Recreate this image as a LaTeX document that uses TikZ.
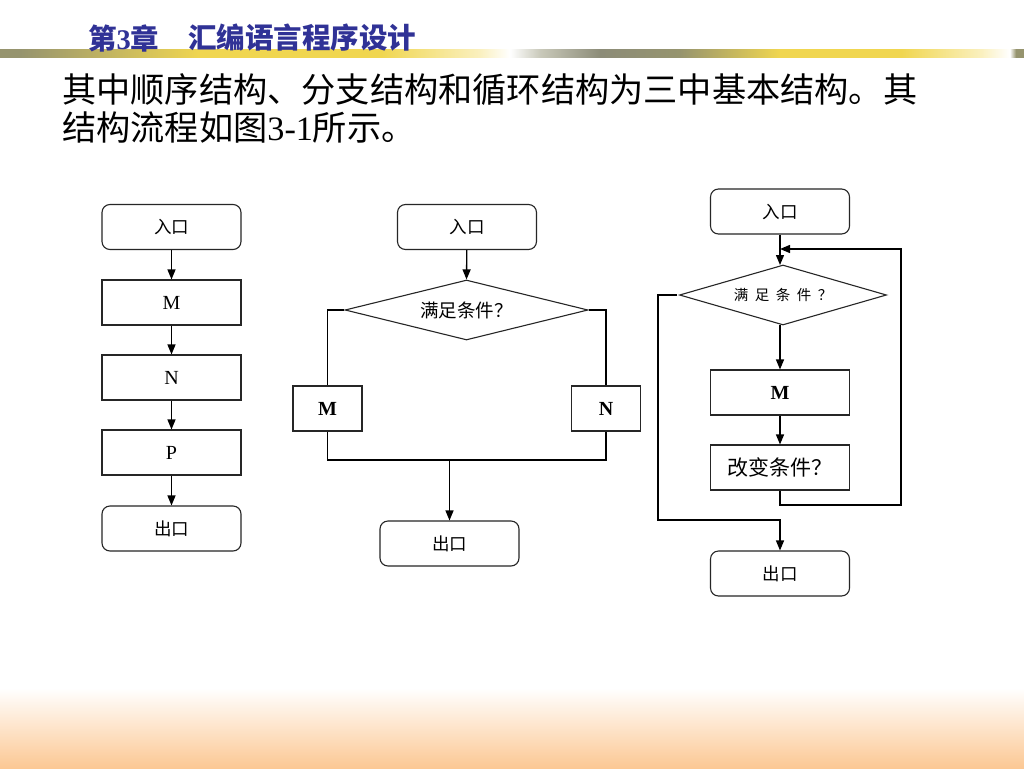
\documentclass[tikz,border=0pt]{standalone}
\usepackage{fontspec}
\setmainfont{Liberation Serif}
\newfontfamily\cjk{Noto Sans CJK SC}
\usetikzlibrary{shapes.geometric,arrows.meta}
\definecolor{titleblue}{RGB}{48,50,150}
\definecolor{barol}{RGB}{150,148,110}
\definecolor{barmid}{RGB}{200,185,95}
\definecolor{baryel}{RGB}{240,214,80}
\definecolor{barlt}{RGB}{250,240,190}
\definecolor{bargl}{RGB}{200,200,185}
\definecolor{bargr}{RGB}{140,140,120}
\definecolor{orangebot}{RGB}{252,200,148}
\pgfdeclarehorizontalshading{barshade}{100bp}{color(0bp)=(barol); color(25bp)=(barol); color(26bp)=(barol); color(30.9bp)=(barmid); color(34.8bp)=(baryel); color(43.6bp)=(baryel); color(48.4bp)=(barlt); color(49.9bp)=(white); color(51.4bp)=(bargl); color(54.3bp)=(bargr); color(58.2bp)=(barol); color(63.1bp)=(baryel); color(69bp)=(baryel); color(72.9bp)=(barlt); color(74.3bp)=(white); color(74.6bp)=(barol); color(75bp)=(barol); color(100bp)=(barol)}
\tikzset{
  box/.style={draw=black!85, line width=1.1pt, minimum width=139pt, minimum height=45pt, inner sep=0pt, align=center},
  term/.style={box, rounded corners=8pt},
  smallbox/.style={box, minimum width=69pt},
  dia/.style={diamond, draw=black!85, line width=1.1pt, inner sep=0pt, shape aspect=4},
  ln/.style={line width=1.3pt},
  arr/.style={ln, -{Triangle[length=10pt,width=8pt]}},
  lbl/.style={font=\fontsize{17.5}{19}\selectfont},
  lat/.style={font=\fontsize{20}{22}\selectfont},
  latb/.style={font=\fontsize{20}{22}\selectfont\bfseries},
}
\begin{document}
\begin{tikzpicture}[x=1pt,y=-1pt]
\useasboundingbox (0,0) rectangle (1024,768);
\fill[white] (0,0) rectangle (1024,768);
\shade[top color=white, bottom color=orangebot] (0,688) rectangle (1024,768);
\shade[shading=barshade] (0,50) rectangle (1024,58);
% title
\node[anchor=west, inner sep=0pt, text=titleblue, font=\fontsize{28.5}{31}\selectfont\bfseries] (h1) at (88,38) {{\cjk\bfseries 第}3{\cjk\bfseries 章}};
\node[anchor=west, inner sep=0pt, text=titleblue, font=\fontsize{28.5}{31}\selectfont] (h2) at (188,38) {\cjk\bfseries 汇编语言程序设计};
% body text
\node[anchor=west, inner sep=0pt, font=\fontsize{34.2}{37}\selectfont] (t1) at (62,90) {\cjk 其中顺序结构、分支结构和循环结构为三中基本结构。其};
\node[anchor=west, inner sep=0pt, font=\fontsize{34.2}{37}\selectfont] (t2) at (62,128) {{\cjk 结构流程如图}3-1{\cjk 所示。}};
% ---- sequence ----
\node[term, lbl] (in1) at (171.5,227) {\cjk 入口};
\node[box, lat] (m1) at (171.5,302.5) {M};
\node[box, lat] (n1) at (171.5,377.5) {N};
\node[box, lat] (p1) at (171.5,452.5) {P};
\node[term, lbl] (out1) at (171.5,528.5) {\cjk 出口};
\draw[arr] (in1) -- (m1);
\draw[arr] (m1) -- (n1);
\draw[arr] (n1) -- (p1);
\draw[arr] (p1) -- (out1);
% ---- branch ----
\node[term, lbl] (in2) at (467,227) {\cjk 入口};
\node[dia, minimum width=243pt, minimum height=60pt, font=\fontsize{18.5}{20}\selectfont] (d2) at (466.5,310) {\cjk 满足条件？};
\node[smallbox, latb] (m2) at (327.5,408.5) {M};
\node[smallbox, latb] (n2) at (606,408.5) {N};
\node[term, lbl] (out2) at (449.5,543.5) {\cjk 出口};
\coordinate (j2) at (449.5,460);
\draw[arr] (in2) -- (d2.north);
\draw[ln] (d2.west) -| (m2.north);
\draw[ln] (d2.east) -| (n2.north);
\draw[ln] (m2.south) -- (m2.south |- j2) -- (n2.south |- j2) -- (n2.south);
\draw[arr] (j2) -- (out2.north);
% ---- loop ----
\node[term, lbl] (in3) at (780,211.5) {\cjk 入口};
\node[dia, minimum width=207pt, minimum height=60pt, font=\fontsize{14.5}{16}\selectfont] (d3) at (783,295) {\cjk 满\hspace{6.5pt}足\hspace{6.5pt}条\hspace{6.5pt}件\hspace{6.5pt}？};
\node[box, latb] (m3) at (780,392.5) {M};
\node[box, font=\fontsize{21}{23}\selectfont] (c3) at (780,467.5) {\cjk 改变条件？};
\node[term, lbl] (out3) at (780,573.5) {\cjk 出口};
\coordinate (lb) at (901,505);
\coordinate (lt) at (901,249);
\coordinate (lp) at (780,249);
\coordinate (el) at (658,520);
\coordinate (dt) at (780,265);
\coordinate (db) at (780,325);
\coordinate (dl) at (677,295);
\draw[arr] (in3) -- (dt);
\draw[arr] (db) -- (m3.north);
\draw[arr] (m3) -- (c3);
\draw[arr] (c3.south) |- (lb) -- (lt) -- (lp);
\draw[arr] (dl) -| (el) -| (out3.north);
\end{tikzpicture}
\end{document}
